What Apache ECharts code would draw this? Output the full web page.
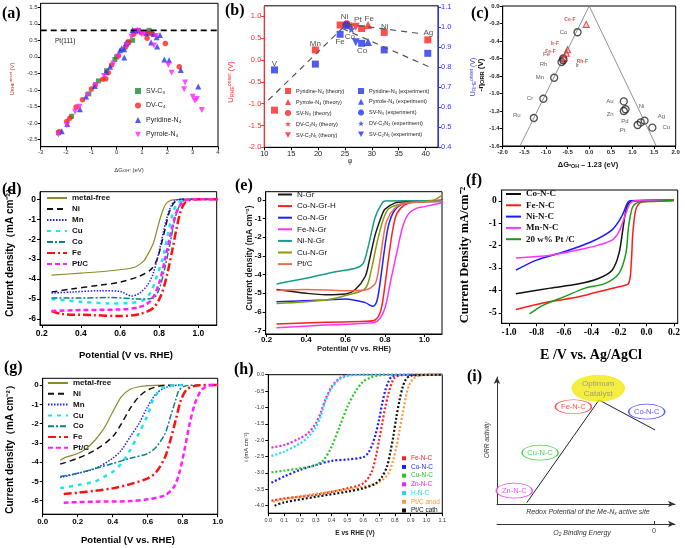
<!DOCTYPE html>
<html>
<head>
<meta charset="utf-8">
<script src="https://cdn.jsdelivr.net/npm/echarts@6/dist/echarts.min.js"></script>
<style>
html, body { margin: 0; padding: 0; background: #fff; }
#chart { width: 685px; height: 548px; }
</style>
</head>
<body>
<div id="chart"></div>
<script>
// ---------- (a) onset potential vs dG_OH ----------
const aSVC3 = [[-2.3,-2.3],[-1.78,-1.8],[-1.1,-1.12],[-0.72,-0.73],[-0.4,-0.42],[-0.07,-0.08],[0.0,0.0],[0.46,0.44],[0.63,0.5],[0.86,0.78],[1.28,0.8],[1.35,0.72]];
const aDVC4 = [[-2.27,-2.27],[-1.97,-1.96],[-1.85,-1.86],[-1.6,-1.52],[-1.35,-1.3],[-1.0,-0.97],[-0.85,-0.85],[-0.55,-0.68],[-0.43,-0.66],[-0.33,-0.48],[-0.2,-0.25],[0.07,0.03],[0.35,0.3],[0.4,0.38],[0.47,0.46],[0.66,0.68],[0.76,0.76],[0.98,0.72],[1.2,0.72],[1.38,0.7],[1.2,0.56],[1.92,0.4],[2.47,-0.3]];
const aPyridine = [[-2.17,-2.25],[-1.95,-2.03],[-1.45,-1.59],[-1.21,-1.2],[-0.86,-0.88],[-0.42,-0.45],[-0.26,-0.3],[0.13,0.2],[0.2,0.26],[0.3,0.23],[0.3,-0.02],[0.37,0.41],[0.63,0.81],[0.83,0.81],[1.16,0.71],[1.36,0.43],[1.47,0.69],[1.58,0.59],[1.6,0.31],[1.71,0.66],[1.88,-0.08],[2.07,-0.1],[2.53,-0.4],[3.22,-0.9]];
const aPyrrole = [[-2.3,-2.35],[-1.97,-2.07],[-1.64,-1.66],[-1.47,-1.51],[-1.16,-1.16],[-0.82,-0.85],[-0.5,-0.58],[-0.13,-0.2],[0.07,0.0],[0.39,0.36],[0.59,0.61],[0.76,0.78],[0.86,0.79],[0.99,0.69],[1.12,0.71],[1.47,0.34],[1.55,0.63],[2.04,-0.25],[2.17,-0.48],[2.7,-0.78],[2.66,-0.98],[3.0,-1.21],[3.09,-1.33],[3.16,-1.28],[3.36,-1.61]];
const aPt111 = [[-3,0.8],[4,0.8]];
const aXTicks = [-3,-2,-1,0,1,2,3,4];
const aYTicks = [-2.5,-2,-1.5,-1,-0.5,0,0.5,1,1.5];

// ---------- (b) volcano vs descriptor phi ----------
const bThPyridine = [[11.9,-1.15],[19.5,0.23],[24.1,0.8],[28.1,0.72],[32.3,0.63],[40.4,0.46]];
const bThPyrrole = [[29.3,0.8]];
const bThSVN3 = [[25.3,0.82]];
const bThDVC2N2 = [[26.2,0.79]];
const bThSVC2N1 = [[27.0,0.76]];
const bExPyridine = [[11.9,0.787],[19.5,0.816],[24.1,0.965],[28.1,0.92],[32.3,0.887],[40.4,0.87]];
const bExPyrrole = [[29.3,0.927]];
const bExSVN3 = [[25.3,1.01]];
const bExDVC2N2 = [[26.2,0.99]];
const bExSVC2N1 = [[27.0,0.925]];
const bTrendRise = [[10.74,-0.92],[25.3,0.82]];
const bTrendUpper = [[25.3,0.82],[39.3,0.6]];
const bTrendLower = [[24.5,0.72],[40.5,-0.15]];
const bLabText = ['V','Mn','Ni','Pt','Fe','Fe','Co','Co','Ni','Ag'];
const bLabX = [11.9,19.5,24.9,27.4,29.5,24.1,25.9,28.2,32.4,40.5];
const bLabY = [-0.08,0.38,0.98,0.92,0.95,0.42,0.52,0.21,0.76,0.63];
const bXTicks = [10,15,20,25,30,35,40];
const bYLTicks = [-2,-1.5,-1,-0.5,0,0.5,1];
const bYRTicks = [0.4,0.5,0.6,0.7,0.8,0.9,1.0,1.1];

// ---------- (c) -eta vs dG_OH - 1.23 ----------
const cMetals = ['Co','Fe','Rh','Ir','Mn','Cr','Ru','Au','Ni','Zn','Ag','Pd','Pt','Cu'];
const cX = [-0.27,-0.6,-0.64,-0.6,-0.81,-1.06,-1.28,0.8,0.84,0.8,1.28,1.19,1.12,1.46];
const cY = [-0.3,-0.6,-0.64,-0.62,-0.82,-1.06,-1.28,-1.09,-1.18,-1.2,-1.31,-1.33,-1.36,-1.39];
const cFNames = ['Co-F','Ir-F','Fe-F','Rh-F'];
const cFX = [-0.07,-0.5,-0.53,-0.58];
const cFY = [-0.21,-0.5,-0.54,-0.59];
const cVolcano = [[-1.6,-1.6],[0,0],[1.55,-1.6]];
const cXTicks = [-2,-1.5,-1,-0.5,0,0.5,1,1.5,2];
const cYTicks = [-1.6,-1.4,-1.2,-1,-0.8,-0.6,-0.4,-0.2,0];

// ---------- (d) LSV, M-N-C ----------
const dMetal = [[0.25,-3.8],[0.4,-3.7],[0.55,-3.58],[0.67,-3.42],[0.72,-3.1],[0.74,-2.8],[0.77,-2.2],[0.79,-1.5],[0.81,-0.8],[0.83,-0.3],[0.85,-0.1],[0.88,-0.02],[0.95,0],[1.1,0]];
const dNi = [[0.25,-4.65],[0.35,-4.5],[0.5,-4.3],[0.6,-4.15],[0.7,-3.85],[0.76,-3.5],[0.79,-3.0],[0.81,-2.3],[0.83,-1.5],[0.85,-0.7],[0.87,-0.25],[0.89,-0.05],[0.92,0],[1.1,0]];
const dMn = [[0.25,-4.7],[0.35,-4.65],[0.5,-4.58],[0.6,-4.62],[0.66,-4.85],[0.7,-4.7],[0.74,-4.3],[0.77,-3.7],[0.8,-2.6],[0.82,-1.7],[0.84,-0.9],[0.86,-0.35],[0.88,-0.08],[0.91,0],[1.1,0]];
const dCu = [[0.25,-5.0],[0.4,-5.13],[0.55,-5.22],[0.65,-5.2],[0.72,-5.05],[0.76,-4.6],[0.79,-3.8],[0.82,-2.9],[0.85,-1.5],[0.87,-0.7],[0.89,-0.25],[0.92,-0.05],[0.96,0],[1.1,0]];
const dCo = [[0.25,-4.95],[0.4,-4.95],[0.55,-4.92],[0.7,-5.0],[0.77,-4.95],[0.8,-4.5],[0.83,-3.4],[0.86,-2.0],[0.88,-1.0],[0.9,-0.4],[0.92,-0.1],[0.95,0],[1.1,0]];
const dFe = [[0.25,-5.6],[0.3,-5.75],[0.45,-5.8],[0.6,-5.85],[0.7,-5.75],[0.77,-5.45],[0.81,-4.8],[0.84,-3.8],[0.87,-2.4],[0.89,-1.4],[0.91,-0.6],[0.93,-0.2],[0.96,-0.03],[1.0,0],[1.1,0]];
const dPt = [[0.25,-5.6],[0.4,-5.55],[0.6,-5.52],[0.7,-5.4],[0.76,-5.05],[0.8,-4.2],[0.83,-3.0],[0.86,-1.7],[0.88,-0.9],[0.9,-0.4],[0.93,-0.07],[0.96,0],[1.1,0]];
const dXTicks = [0.2,0.4,0.6,0.8,1.0];
const dYTicks = [-6,-5,-4,-3,-2,-1,0];

// ---------- (e) LSV, M-N-Gr ----------
const eNGr = [[0.25,-4.8],[0.4,-5.0],[0.5,-5.08],[0.6,-5.04],[0.65,-4.8],[0.7,-4.1],[0.72,-3.3],[0.75,-1.9],[0.78,-0.95],[0.8,-0.5],[0.85,-0.17],[0.9,-0.1],[1.1,-0.08]];
const eCoH = [[0.25,-6.65],[0.5,-6.55],[0.7,-6.5],[0.75,-6.43],[0.78,-5.9],[0.8,-4.6],[0.82,-3.0],[0.84,-1.6],[0.86,-0.75],[0.9,-0.27],[0.95,-0.1],[1.1,0]];
const eCo = [[0.25,-5.45],[0.5,-5.36],[0.6,-5.3],[0.7,-5.5],[0.74,-5.7],[0.76,-5.4],[0.78,-4.1],[0.8,-2.5],[0.82,-1.3],[0.85,-0.55],[0.9,-0.18],[1.0,-0.09],[1.1,-0.03]];
const eFe = [[0.25,-6.85],[0.5,-6.7],[0.7,-6.6],[0.76,-6.5],[0.8,-5.8],[0.83,-4.3],[0.86,-2.85],[0.89,-1.45],[0.92,-0.75],[0.96,-0.45],[1.0,-0.36],[1.1,-0.14]];
const eNi = [[0.25,-4.5],[0.4,-4.2],[0.55,-3.85],[0.65,-3.66],[0.69,-3.4],[0.72,-2.3],[0.75,-0.95],[0.78,-0.28],[0.8,-0.06],[0.9,-0.05],[1.1,-0.05]];
const eCu = [[0.25,-5.55],[0.5,-5.36],[0.6,-5.12],[0.7,-4.75],[0.73,-3.8],[0.76,-2.3],[0.79,-1.1],[0.82,-0.47],[0.9,-0.18],[1.0,-0.09],[1.05,0],[1.1,0.32]];
const ePt = [[0.25,-4.85],[0.4,-4.8],[0.6,-4.86],[0.7,-4.82],[0.75,-4.5],[0.77,-3.6],[0.79,-2.15],[0.81,-1.1],[0.85,-0.45],[0.9,-0.18],[1.0,-0.1],[1.1,-0.05]];
const eXTicks = [0.2,0.4,0.6,0.8,1.0];
const eYTicks = [-7,-6,-5,-4,-3,-2,-1,0];

// ---------- (f) LSV vs Ag/AgCl ----------
const fCo = [[-0.95,-4.15],[-0.7,-3.9],[-0.5,-3.72],[-0.35,-3.47],[-0.25,-3.1],[-0.2,-2.35],[-0.17,-1.2],[-0.15,-0.45],[-0.12,-0.05],[-0.05,0],[0.2,0.02]];
const fFe = [[-0.95,-4.85],[-0.7,-4.5],[-0.5,-4.3],[-0.35,-4.06],[-0.2,-3.84],[-0.13,-3.69],[-0.11,-2.7],[-0.1,-1.5],[-0.08,-0.45],[-0.05,-0.1],[0,-0.03],[0.2,0]];
const fNi = [[-0.95,-3.1],[-0.8,-2.65],[-0.6,-2.28],[-0.4,-1.83],[-0.25,-1.3],[-0.18,-0.7],[-0.14,-0.12],[-0.12,0],[0.2,0.03]];
const fMn = [[-0.95,-2.55],[-0.7,-2.43],[-0.5,-2.2],[-0.35,-1.98],[-0.25,-1.76],[-0.2,-1.38],[-0.15,-0.57],[-0.12,-0.12],[-0.08,0],[0.2,0.02]];
const fPt = [[-0.85,-5.05],[-0.75,-4.66],[-0.6,-4.29],[-0.45,-3.91],[-0.3,-3.69],[-0.2,-3.24],[-0.15,-2.35],[-0.13,-1.16],[-0.1,-0.27],[-0.05,-0.05],[0.05,-0.03],[0.2,0.02]];
const fXTicks = [-1.0,-0.8,-0.6,-0.4,-0.2,0,0.2];
const fYTicks = [-5,-4,-3,-2,-1,0];

// ---------- (g) LSV, second set ----------
const gMetal = [[0.1,-3.9],[0.13,-3.75],[0.2,-3.55],[0.25,-3.29],[0.3,-2.85],[0.35,-2.25],[0.4,-1.4],[0.45,-0.6],[0.5,-0.22],[0.55,-0.09],[0.6,-0.03],[0.7,0]];
const gNi = [[0.1,-4.1],[0.2,-3.8],[0.3,-3.37],[0.4,-2.68],[0.45,-2.0],[0.5,-1.21],[0.55,-0.6],[0.6,-0.26],[0.65,-0.09],[0.7,-0.02],[0.8,0]];
const gMn = [[0.1,-4.8],[0.2,-4.58],[0.3,-4.33],[0.4,-3.8],[0.45,-3.37],[0.5,-2.68],[0.55,-2.0],[0.6,-1.12],[0.65,-0.43],[0.7,-0.14],[0.75,-0.03],[0.8,0]];
const gCu = [[0.1,-5.35],[0.2,-5.19],[0.3,-5.0],[0.35,-4.76],[0.4,-4.5],[0.45,-4.07],[0.5,-3.37],[0.55,-2.5],[0.6,-1.55],[0.63,-0.78],[0.67,-0.26],[0.7,-0.09],[0.75,-0.02],[0.8,0]];
const gCo = [[0.1,-4.75],[0.2,-4.58],[0.3,-4.33],[0.4,-4.07],[0.5,-3.8],[0.6,-3.55],[0.65,-3.2],[0.7,-2.5],[0.73,-1.64],[0.76,-0.78],[0.78,-0.26],[0.82,-0.03],[0.9,0]];
const gFe = [[0.12,-5.65],[0.2,-5.59],[0.3,-5.48],[0.4,-5.36],[0.5,-5.14],[0.6,-4.84],[0.65,-4.5],[0.7,-3.72],[0.73,-2.85],[0.76,-1.82],[0.79,-0.78],[0.82,-0.26],[0.85,-0.09],[0.9,-0.01],[1.0,0]];
const gPt = [[0.12,-6.1],[0.3,-6.05],[0.5,-6.02],[0.6,-5.93],[0.7,-5.71],[0.75,-5.28],[0.78,-4.58],[0.81,-3.37],[0.84,-2.0],[0.87,-0.95],[0.9,-0.35],[0.93,-0.09],[0.96,-0.01],[1.0,0]];
const gXTicks = [0,0.2,0.4,0.6,0.8,1.0];
const gYTicks = [-6,-5,-4,-3,-2,-1,0];

// ---------- (h) dotted LSV ----------
const hFe = [[0.02,-3.85],[0.1,-3.78],[0.3,-3.67],[0.5,-3.47],[0.6,-3.32],[0.65,-3.01],[0.68,-2.5],[0.7,-2.0],[0.72,-1.49],[0.74,-0.98],[0.76,-0.57],[0.78,-0.26],[0.8,-0.08],[0.85,-0.01],[1.1,0]];
const hCo = [[0.02,-3.3],[0.1,-3.11],[0.2,-2.91],[0.3,-2.76],[0.4,-2.63],[0.5,-2.59],[0.6,-2.52],[0.63,-2.4],[0.66,-2.1],[0.68,-1.79],[0.7,-1.38],[0.72,-0.88],[0.74,-0.47],[0.76,-0.21],[0.78,-0.06],[0.82,-0.01],[1.1,0]];
const hCu = [[0.02,-2.98],[0.1,-2.93],[0.2,-2.86],[0.3,-2.76],[0.35,-2.6],[0.4,-2.2],[0.45,-1.59],[0.5,-0.98],[0.55,-0.52],[0.6,-0.21],[0.65,-0.08],[0.7,-0.02],[0.8,0],[1.1,0]];
const hZn = [[0.02,-2.22],[0.1,-2.15],[0.2,-1.94],[0.25,-1.79],[0.3,-1.49],[0.33,-1.18],[0.36,-0.77],[0.4,-0.37],[0.45,-0.11],[0.5,-0.02],[0.6,0],[1.1,0]];
const hH = [[0.02,-2.48],[0.1,-2.35],[0.2,-2.1],[0.25,-1.91],[0.3,-1.61],[0.33,-1.28],[0.36,-0.82],[0.4,-0.42],[0.45,-0.14],[0.5,-0.04],[0.6,0],[1.1,0]];
const hPtA = [[0.03,-3.88],[0.1,-3.8],[0.3,-3.64],[0.5,-3.5],[0.65,-3.37],[0.72,-3.22],[0.76,-3.01],[0.79,-2.6],[0.81,-2.2],[0.83,-1.69],[0.85,-1.18],[0.87,-0.67],[0.89,-0.32],[0.92,-0.11],[0.96,-0.02],[1.1,0]];
const hPtC = [[0.04,-4.0],[0.1,-3.9],[0.3,-3.73],[0.5,-3.57],[0.6,-3.47],[0.68,-3.32],[0.72,-3.11],[0.75,-2.81],[0.77,-2.4],[0.79,-1.89],[0.81,-1.28],[0.83,-0.77],[0.85,-0.37],[0.87,-0.14],[0.9,-0.03],[1.1,0]];
const hXTicks = [0,0.1,0.2,0.3,0.4,0.5,0.6,0.7,0.8,0.9,1.0,1.1];
const hYTicks = [-4,-3.5,-3,-2.5,-2,-1.5,-1,-0.5,0];

// ---------- (i) schematic (0-100 box) ----------
const iTrend = [[16.7,1],[57.3,81.9],[88.8,58.3]];
const iBubbleNames = ['Optimum\nCatalyst','Fe-N-C','Co-N-C','Cu-N-C','Zn-N-C'];
const iBubbleX = [56.9,42.9,84.1,24.2,9.7];
const iBubbleY = [91.1,76.6,72.7,40.4,10.5];
const iZeroTick = [88.2];

// ---------- helpers ----------
const SANS = 'Liberation Sans, Arial, sans-serif';
const SERIF = 'Liberation Serif, Times New Roman, serif';
const f1 = v => v.toFixed(1);
const f0 = v => String(Math.round(v));

const DOWN = 'path://M0,0L10,0L5,9Z';
const STAR = 'path://M5,0L6.2,3.6L10,3.6L7,5.9L8.1,9.5L5,7.3L1.9,9.5L3,5.9L0,3.6L3.8,3.6Z';
const HEX = 'path://M3,0L7,0L10,3L10,7L7,10L3,10L0,7L0,3Z';

function axis(gi, min, max, ticks, o) {
  o = o || {};
  return {
    type: 'value', gridIndex: gi, min: min, max: max, position: o.position,
    splitLine: { show: false },
    axisLine: { show: true, onZero: false, lineStyle: { color: o.color || '#000', width: 1 } },
    axisTick: { show: true, length: 3, inside: !!o.inside, customValues: ticks, lineStyle: { color: o.color || '#000' } },
    axisLabel: {
      customValues: ticks, formatter: o.fmt || f1, fontSize: o.size || 7,
      color: o.labelColor || o.color || '#000', fontFamily: o.font || SANS,
      fontWeight: o.bold ? 'bold' : 'normal', margin: o.margin || 3
    }
  };
}

function curve(name, gi, data, color, width, dash) {
  return {
    type: 'line', name: name, xAxisIndex: gi, yAxisIndex: gi, data: data,
    symbol: 'none', smooth: 0.3, silent: true,
    lineStyle: { color: color, width: width, type: dash || 'solid' },
    itemStyle: { color: color }
  };
}

function dots(name, gi, data, color, size, symbol, yi) {
  return {
    type: 'scatter', name: name, xAxisIndex: gi, yAxisIndex: yi === undefined ? gi : yi,
    data: data, symbol: symbol, symbolSize: size, silent: true,
    itemStyle: { color: color }
  };
}

function txt(x, y, text, o) {
  o = o || {};
  return {
    type: 'text', x: x, y: y, rotation: o.rot || 0, silent: true, z: 100,
    style: {
      text: text, fontSize: o.size || 8, fontFamily: o.font || SANS,
      fontWeight: o.bold ? 'bold' : 'normal', fontStyle: o.italic ? 'italic' : 'normal',
      fill: o.color || '#000', align: o.align || 'center', verticalAlign: 'middle',
      textAlign: o.align || 'center', textVerticalAlign: 'middle', rich: o.rich
    }
  };
}

const subRich = (s, c) => ({ n: { fontSize: s, fill: c, fontFamily: SANS }, s: { fontSize: s * 0.7, fill: c, fontFamily: SANS, verticalAlign: 'bottom', padding: [s * 0.4, 0, 0, 0] }, p: { fontSize: s * 0.7, fill: c, fontFamily: SANS, verticalAlign: 'top', padding: [0, 0, s * 0.4, 0] } });
const withStyle = (r, key, val) => { Object.keys(r).forEach(k => r[k][key] = val); return r; };

// ---------- grids ----------
const grids = [
  { left: 40.7, top: 3.3, width: 177.3, height: 143.4 },   // a
  { left: 264.3, top: 5.8, width: 173.7, height: 141.5 },  // b
  { left: 502.7, top: 6, width: 173, height: 140 },        // c
  { left: 40, top: 191.7, width: 176.7, height: 133.3 },   // d
  { left: 265.7, top: 191.7, width: 176.3, height: 142.3 },// e
  { left: 501.7, top: 190, width: 176, height: 133.3 },    // f
  { left: 42.7, top: 378.3, width: 175, height: 135.9 },   // g
  { left: 268.3, top: 374.7, width: 174, height: 138.5 },  // h
  { left: 497, top: 377, width: 178, height: 127 }         // i
].map((g, i) => Object.assign({ show: i < 8, borderColor: '#000', borderWidth: 1, backgroundColor: 'transparent', containLabel: false }, g));

const xAxes = [
  axis(0, -3, 4, aXTicks, { fmt: f0, size: 6, labelColor: '#333' }),
  axis(1, 10, 42.3, bXTicks, { fmt: f0, size: 7.5, labelColor: '#222' }),
  axis(2, -2, 2, cXTicks, { size: 6, bold: true, labelColor: '#222' }),
  axis(3, 0.191, 1.094, dXTicks, { size: 8.5, bold: true, margin: 4 }),
  axis(4, 0.195, 1.09, eXTicks, { size: 8, bold: true, margin: 2 }),
  axis(5, -1.053, 0.227, fXTicks, { size: 9.5, bold: true, font: SERIF, margin: 4 }),
  axis(6, 0, 1, gXTicks, { size: 8, bold: true, margin: 4 }),
  axis(7, 0, 1.1, hXTicks, { size: 5.5, labelColor: '#333', margin: 4 }),
  { type: 'value', gridIndex: 8, min: 0, max: 100, splitLine: { show: false }, axisTick: { show: false }, axisLabel: { show: false },
    axisLine: { show: true, onZero: false, symbol: ['none', 'arrow'], symbolSize: [5, 7], lineStyle: { color: '#333', width: 1 } } },
  { type: 'value', gridIndex: 8, min: 0, max: 100, position: 'bottom', offset: 20, splitLine: { show: false },
    axisTick: { show: true, customValues: iZeroTick, length: 3, inside: true, lineStyle: { color: '#333' } },
    axisLabel: { customValues: iZeroTick, formatter: () => '0', fontSize: 7, color: '#333', margin: 4 },
    axisLine: { show: true, onZero: false, symbol: ['none', 'arrow'], symbolSize: [5, 7], lineStyle: { color: '#333', width: 1 } } }
];

const yAxes = [
  axis(0, -2.72, 1.62, aYTicks, { size: 6, labelColor: '#333' }),
  axis(1, -2, 1.24, bYLTicks, { size: 7.5, color: '#ff2b2b' }),
  axis(2, -1.6, 0, cYTicks, { size: 6, bold: true, labelColor: '#222' }),
  axis(3, -6.3, 0.38, dYTicks, { fmt: f0, size: 8.5, bold: true, margin: 4 }),
  axis(4, -7.18, 0.44, eYTicks, { fmt: f0, size: 8, bold: true, margin: 4 }),
  axis(5, -5.47, 0.48, fYTicks, { fmt: f0, size: 9.5, bold: true, font: SERIF, margin: 5 }),
  axis(6, -6.7, 0.35, gYTicks, { fmt: f0, size: 8, bold: true, margin: 4 }),
  axis(7, -4.23, 0, hYTicks, { size: 5.5, labelColor: '#333', margin: 4 }),
  { type: 'value', gridIndex: 8, min: 0, max: 100, splitLine: { show: false }, axisTick: { show: false }, axisLabel: { show: false },
    axisLine: { show: true, onZero: false, symbol: ['none', 'arrow'], symbolSize: [5, 7], lineStyle: { color: '#333', width: 1 } } },
  axis(1, 0.4, 1.1075, bYRTicks, { size: 7.5, color: '#3535ff', position: 'right' })
];

// ---------- series ----------
const RED = '#ff2222', BLUE = '#2233ee';
const series = [
  // (a)
  { type: 'line', name: 'a:Pt111', xAxisIndex: 0, yAxisIndex: 0, data: aPt111, symbol: 'none', silent: true,
    lineStyle: { color: '#000', width: 1.8, type: [6, 4] } },
  dots('a:SV-C₃', 0, aSVC3, '#1a8c2a', 5, 'rect'),
  dots('a:DV-C₄', 0, aDVC4, RED, 5.5, 'circle'),
  dots('a:Pyridine-N₄', 0, aPyridine, BLUE, 6, 'triangle'),
  dots('a:Pyrrole-N₄', 0, aPyrrole, '#ff22ff', 6, DOWN),
  // (b)
  ...[bTrendRise, bTrendUpper, bTrendLower].map(d => ({ type: 'line', xAxisIndex: 1, yAxisIndex: 1, data: d, symbol: 'none', silent: true,
    lineStyle: { color: '#555', width: 1.2, type: [6, 5] } })),
  dots('b:Pyridine-N₄ (theory)', 1, bThPyridine, RED, 7, 'rect'),
  dots('b:Pyrrole-N₄ (theory)', 1, bThPyrrole, RED, 8, 'triangle'),
  dots('b:SV-N₃ (theory)', 1, bThSVN3, RED, 8, HEX),
  dots('b:DV-C₂N₂ (theory)', 1, bThDVC2N2, RED, 8, STAR),
  dots('b:SV-C₂N₁ (theory)', 1, bThSVC2N1, RED, 8, DOWN),
  dots('b:Pyridine-N₄ (experiment)', 1, bExPyridine, BLUE, 7, 'rect', 9),
  dots('b:Pyrrole-N₄ (experiment)', 1, bExPyrrole, BLUE, 8, 'triangle', 9),
  dots('b:SV-N₃ (experiment)', 1, bExSVN3, BLUE, 8, HEX, 9),
  dots('b:DV-C₂N₂ (experiment)', 1, bExDVC2N2, BLUE, 8, STAR, 9),
  dots('b:SV-C₂N₁ (experiment)', 1, bExSVC2N1, BLUE, 8, DOWN, 9),
  { type: 'scatter', xAxisIndex: 1, yAxisIndex: 1, symbolSize: 1, silent: true, itemStyle: { color: 'transparent' },
    data: bLabX.map((x, i) => ({ value: [x, bLabY[i]], name: bLabText[i] })),
    label: { show: true, position: 'inside', formatter: '{b}', fontSize: 8, color: '#222', fontFamily: SANS } },
  // (c)
  { type: 'line', xAxisIndex: 2, yAxisIndex: 2, data: cVolcano, symbol: 'none', silent: true, lineStyle: { color: '#777', width: 0.8 } },
  { type: 'scatter', id: 'cMetals', xAxisIndex: 2, yAxisIndex: 2, symbol: 'circle', symbolSize: 7, silent: true,
    itemStyle: { color: 'rgba(255,255,255,0)', borderColor: '#222', borderWidth: 1.3 },
    data: cMetals.map((m, i) => ({ value: [cX[i], cY[i]], name: m })),
    label: { show: true, formatter: '{b}', fontSize: 6, color: '#333', fontFamily: SANS, distance: 6 } },
  { type: 'scatter', id: 'cF', xAxisIndex: 2, yAxisIndex: 2, symbol: 'triangle', symbolSize: 6, silent: true,
    itemStyle: { color: 'rgba(255,150,150,0.4)', borderColor: '#e02020', borderWidth: 1.1 },
    data: cFNames.map((m, i) => ({ value: [cFX[i], cFY[i]], name: m })),
    label: { show: true, formatter: '{b}', fontSize: 5, color: '#e02020', fontWeight: 'bold', fontFamily: SANS, distance: 5 } },
  // (d)
  curve('d:metal-free', 3, dMetal, '#8b8b2b', 1.2),
  curve('d:Ni', 3, dNi, '#111', 1.5, [6, 4]),
  curve('d:Mn', 3, dMn, '#2020ff', 1.5, [1.5, 1.5]),
  curve('d:Cu', 3, dCu, '#19e6f0', 2.5, [4, 5]),
  curve('d:Co', 3, dCo, '#0a8080', 1.5, [6, 2, 2, 2]),
  curve('d:Fe', 3, dFe, '#ff1010', 2.5, [8, 3, 2, 3]),
  curve('d:Pt/C', 3, dPt, '#ff20ff', 2.5, [5, 3]),
  // (e)
  curve('e:N-Gr', 4, eNGr, '#1a1a1a', 1.5),
  curve('e:Co-N-Gr-H', 4, eCoH, '#ff2020', 1.5),
  curve('e:Co-N-Gr', 4, eCo, '#2020ff', 1.5),
  curve('e:Fe-N-Gr', 4, eFe, '#ff33ff', 1.5),
  curve('e:Ni-N-Gr', 4, eNi, '#1a9a8a', 1.5),
  curve('e:Cu-N-Gr', 4, eCu, '#8a9a10', 1.5),
  curve('e:Pt/C', 4, ePt, '#f46a4a', 1.5),
  // (f)
  curve('f:Co-N-C', 5, fCo, '#111', 1.5),
  curve('f:Fe-N-C', 5, fFe, '#ff1a1a', 1.5),
  curve('f:Ni-N-C', 5, fNi, '#1a1aff', 1.5),
  curve('f:Mn-N-C', 5, fMn, '#ff33ff', 1.5),
  curve('f:20 w% Pt /C', 5, fPt, '#1a9a1a', 1.5),
  // (g)
  curve('g:metal-free', 6, gMetal, '#8b8b2b', 1.2),
  curve('g:Ni', 6, gNi, '#111', 1.5, [6, 4]),
  curve('g:Mn', 6, gMn, '#2020ff', 1.5, [1.5, 1.5]),
  curve('g:Cu', 6, gCu, '#19e6f0', 2.5, [4, 5]),
  curve('g:Co', 6, gCo, '#0a8080', 1.5, [6, 2, 2, 2]),
  curve('g:Fe', 6, gFe, '#ff1010', 2.5, [8, 3, 2, 3]),
  curve('g:Pt/C', 6, gPt, '#ff20ff', 2.5, [5, 3]),
  // (h)
  curve('h:Fe-N-C', 7, hFe, '#ff2020', 2.2, [2, 2]),
  curve('h:Co-N-C', 7, hCo, '#1f1fff', 2.2, [2, 2]),
  curve('h:Cu-N-C', 7, hCu, '#22cc22', 2.2, [2, 2]),
  curve('h:Zn-N-C', 7, hZn, '#ee22ee', 2.2, [2, 2]),
  curve('h:H-N-C', 7, hH, '#22ddee', 2.2, [2, 2]),
  curve('h:Pt/C anod', 7, hPtA, '#ff9933', 2.2, [2, 2]),
  curve('h:Pt/C cath', 7, hPtC, '#111', 2.2, [2, 2]),
  // (i)
  { type: 'line', xAxisIndex: 8, yAxisIndex: 8, data: iTrend, symbol: 'none', silent: true, lineStyle: { color: '#222', width: 1 } },
  { type: 'scatter', id: 'iBubbles', xAxisIndex: 8, yAxisIndex: 8, silent: true, z: 5,
    data: iBubbleNames.map((n, i) => ({ value: [iBubbleX[i], iBubbleY[i]], name: n })),
    symbol: 'circle', label: { show: true, position: 'inside', formatter: '{b}', fontFamily: SANS, lineHeight: 10 } }
];

// per-item styling: schematic bubbles and metal labels in (c)
const iStyles = [
  { size: [52, 26], fill: '#f2ea10', border: '#f2ea10', text: '#8a8a8a', fs: 8 },
  { size: [36, 14], fill: '#fff', border: '#ff2020', text: '#ff2020', fs: 7.5 },
  { size: [36, 15], fill: '#fff', border: '#2a2aff', text: '#2a2aff', fs: 7.5 },
  { size: [36, 15], fill: '#fff', border: '#22cc22', text: '#22cc22', fs: 7.5 },
  { size: [36, 15], fill: '#fff', border: '#ee22ee', text: '#ee22ee', fs: 7.5 }
];
const byId = id => series.find(s => s.id === id);
byId('iBubbles').data.forEach((d, i) => {
  const s = iStyles[i];
  d.symbolSize = s.size;
  d.itemStyle = { color: s.fill, borderColor: s.border, borderWidth: 1 };
  d.label = { color: s.text, fontSize: s.fs };
});
const cSide = { Co: 'left', Fe: 'left', Rh: 'left', Ir: 'right', Mn: 'left', Cr: 'left', Ru: 'left', Au: 'left', Ni: 'right', Zn: 'left', Ag: 'right', Pd: 'left', Pt: 'left', Cu: 'right' };
const cOff = { Fe: [-3, -4], Rh: [-4, 2], Ir: [2, 5], Ru: [-3, -3], Zn: [0, 3], Pt: [-2, 5], Ag: [3, -4], Ni: [3, -3], Pd: [-2, -1] };
byId('cMetals').data.forEach(d => { d.label = { position: cSide[d.name], offset: cOff[d.name] || [0, 0] }; });
const cFPos = { 'Co-F': ['left', [-2, -5]], 'Ir-F': ['left', [0, -6]], 'Fe-F': ['left', [-2, -2]], 'Rh-F': ['right', [4, 4]] };
byId('cF').data.forEach(d => { d.label = { position: cFPos[d.name][0], offset: cFPos[d.name][1] }; });

// ---------- legends ----------
const strip = n => n.slice(2);
const lg = (names, o) => Object.assign({
  data: names, orient: 'vertical', padding: 0, formatter: strip, selectedMode: false,
  itemWidth: 18, itemHeight: 8, itemGap: 3
}, o);
const lineLg = (names, o) => lg(names, Object.assign({ itemStyle: { opacity: 0, borderWidth: 0 } }, o));
const legends = [
  lg(['a:SV-C₃', 'a:DV-C₄', 'a:Pyridine-N₄', 'a:Pyrrole-N₄'],
    { left: 135, top: 87.5, itemWidth: 6, itemHeight: 6, itemGap: 7.5, textStyle: { fontSize: 7, fontFamily: SANS, color: '#222' } }),
  lg(['b:Pyridine-N₄ (theory)', 'b:Pyrrole-N₄ (theory)', 'b:SV-N₃ (theory)', 'b:DV-C₂N₂ (theory)', 'b:SV-C₂N₁ (theory)'],
    { left: 285, top: 88, itemWidth: 6, itemHeight: 6, itemGap: 5, textStyle: { fontSize: 5.5, fontFamily: SANS, color: '#222' } }),
  lg(['b:Pyridine-N₄ (experiment)', 'b:Pyrrole-N₄ (experiment)', 'b:SV-N₃ (experiment)', 'b:DV-C₂N₂ (experiment)', 'b:SV-C₂N₁ (experiment)'],
    { left: 358, top: 88, itemWidth: 6, itemHeight: 6, itemGap: 4.8, textStyle: { fontSize: 5.5, fontFamily: SANS, color: '#222' } }),
  lineLg(['d:metal-free', 'd:Ni', 'd:Mn', 'd:Cu', 'd:Co', 'd:Fe', 'd:Pt/C'],
    { left: 46, top: 194, itemWidth: 20, textStyle: { fontSize: 8, fontWeight: 'bold', fontFamily: SANS, color: '#111' } }),
  lineLg(['e:N-Gr', 'e:Co-N-Gr-H', 'e:Co-N-Gr', 'e:Fe-N-Gr', 'e:Ni-N-Gr', 'e:Cu-N-Gr', 'e:Pt/C'],
    { left: 277, top: 190.5, itemWidth: 14, itemGap: 3.6, textStyle: { fontSize: 8, fontFamily: SANS, color: '#111' } }),
  lineLg(['f:Co-N-C', 'f:Fe-N-C', 'f:Ni-N-C', 'f:Mn-N-C', 'f:20 w% Pt /C'],
    { left: 505, top: 189.5, itemWidth: 15, itemHeight: 9, itemGap: 2.3, textStyle: { fontSize: 9, fontWeight: 'bold', fontFamily: SERIF, color: '#111' } }),
  lineLg(['g:metal-free', 'g:Ni', 'g:Mn', 'g:Cu', 'g:Co', 'g:Fe', 'g:Pt/C'],
    { left: 47, top: 379, itemWidth: 20, itemGap: 2.8, textStyle: { fontSize: 8, fontWeight: 'bold', fontFamily: SANS, color: '#111' } }),
  lg(['h:Fe-N-C', 'h:Co-N-C', 'h:Cu-N-C', 'h:Zn-N-C', 'h:H-N-C', 'h:Pt/C anod', 'h:Pt/C cath'].map((n, i) => ({
      name: n, textStyle: { color: ['#ff2020', '#1f1fff', '#22cc22', '#ee22ee', '#22ddee', '#ff9933', '#111'][i] } })),
    { left: 402, top: 454.5, icon: 'rect', itemWidth: 4, itemHeight: 4, itemGap: 1.2, textStyle: { fontSize: 6.5, lineHeight: 7.5, fontFamily: SANS } })
];

// ---------- texts ----------
const graphics = [
  txt(2, 14, '(a)', { size: 16, bold: true, font: SERIF, align: 'left' }),
  txt(225, 10.5, '(b)', { size: 16, bold: true, font: SERIF, align: 'left' }),
  txt(471, 13.5, '(c)', { size: 16, bold: true, font: SERIF, align: 'left' }),
  txt(2, 190, '(d)', { size: 16, bold: true, font: SERIF, align: 'left' }),
  txt(235, 185.5, '(e)', { size: 16, bold: true, font: SERIF, align: 'left' }),
  txt(466, 180.5, '(f)', { size: 16, bold: true, font: SERIF, align: 'left' }),
  txt(4, 368, '(g)', { size: 16, bold: true, font: SERIF, align: 'left' }),
  txt(234, 370, '(h)', { size: 16, bold: true, font: SERIF, align: 'left' }),
  txt(467, 377, '(i)', { size: 16, bold: true, font: SERIF, align: 'left' }),
  // (a)
  txt(129, 170, '{n|ΔG}{s|OH*}{n| (eV)}', { rich: subRich(6, '#333') }),
  txt(12, 79, '{n|U}{s|RHE}{p|onset}{n| (V)}', { rot: Math.PI / 2, rich: subRich(6, '#b03a2e') }),
  txt(55, 41, 'Pt(111)', { size: 6.5, color: '#222', align: 'left' }),
  // (b)
  txt(231, 82, '{n|U}{s|RHE}{p|onset}{n| (V)}', { rot: Math.PI / 2, rich: subRich(7.5, '#ff2b2b') }),
  txt(473, 77, '{n|U}{s|RHE}{p|onset}{n| (V)}', { rot: Math.PI / 2, rich: subRich(7, '#3535ff') }),
  txt(350, 161, 'φ', { size: 7, color: '#333' }),
  // (c)
  txt(481, 75, '{n|-η}{s|ORR}{n| (V)}', { rot: Math.PI / 2, rich: withStyle(subRich(8, '#111'), 'fontWeight', 'bold') }),
  txt(588, 165, '{n|ΔG}{s|*OH}{n| – 1.23 (eV)}', { rich: withStyle(subRich(7.5, '#111'), 'fontWeight', 'bold') }),
  // (d)
  txt(10, 250, 'Current density（mA cm⁻²）', { rot: Math.PI / 2, size: 10, bold: true }),
  txt(126, 355, 'Potential (V vs. RHE)', { size: 9.5, bold: true }),
  // (e)
  txt(249.5, 258, 'Current density (mA cm⁻²)', { rot: Math.PI / 2, size: 8.5, bold: true, color: '#222' }),
  txt(354, 349, 'Potential (V vs. RHE)', { size: 7.5, bold: true, color: '#222' }),
  // (f)
  txt(465, 255, 'Current Density mA/cm⁻²', { rot: Math.PI / 2, size: 12.5, bold: true, font: SERIF }),
  txt(591, 355, 'E /V vs. Ag/AgCl', { size: 14, bold: true, font: SERIF }),
  // (g)
  txt(10, 447, 'Current density（mA cm⁻²）', { rot: Math.PI / 2, size: 10, bold: true }),
  txt(128, 540, 'Potential (V vs. RHE)', { size: 9.5, bold: true }),
  // (h)
  txt(246, 447, 'i (mA cm⁻²)', { rot: Math.PI / 2, size: 6, color: '#222' }),
  txt(355, 533, 'E vs RHE (V)', { size: 6.5, bold: true, color: '#222' }),
  // (i)
  txt(487, 440, 'ORR activity', { rot: Math.PI / 2, size: 6.5, italic: true, color: '#333' }),
  txt(588, 512, '{n|Redox Potential of the Me-N}{s|x}{n| active site}', { rich: withStyle(subRich(7, '#333'), 'fontStyle', 'italic') }),
  txt(582, 533, '{n|O}{s|2}{n| Binding Energy}', { rich: withStyle(subRich(7, '#333'), 'fontStyle', 'italic') })
];

const chart = echarts.init(document.getElementById('chart'), null, { renderer: 'canvas' });
chart.setOption({
  animation: false,
  backgroundColor: '#fff',
  textStyle: { fontFamily: SANS },
  grid: grids,
  xAxis: xAxes,
  yAxis: yAxes,
  legend: legends,
  series: series,
  graphic: graphics
});
</script>
</body>
</html>
